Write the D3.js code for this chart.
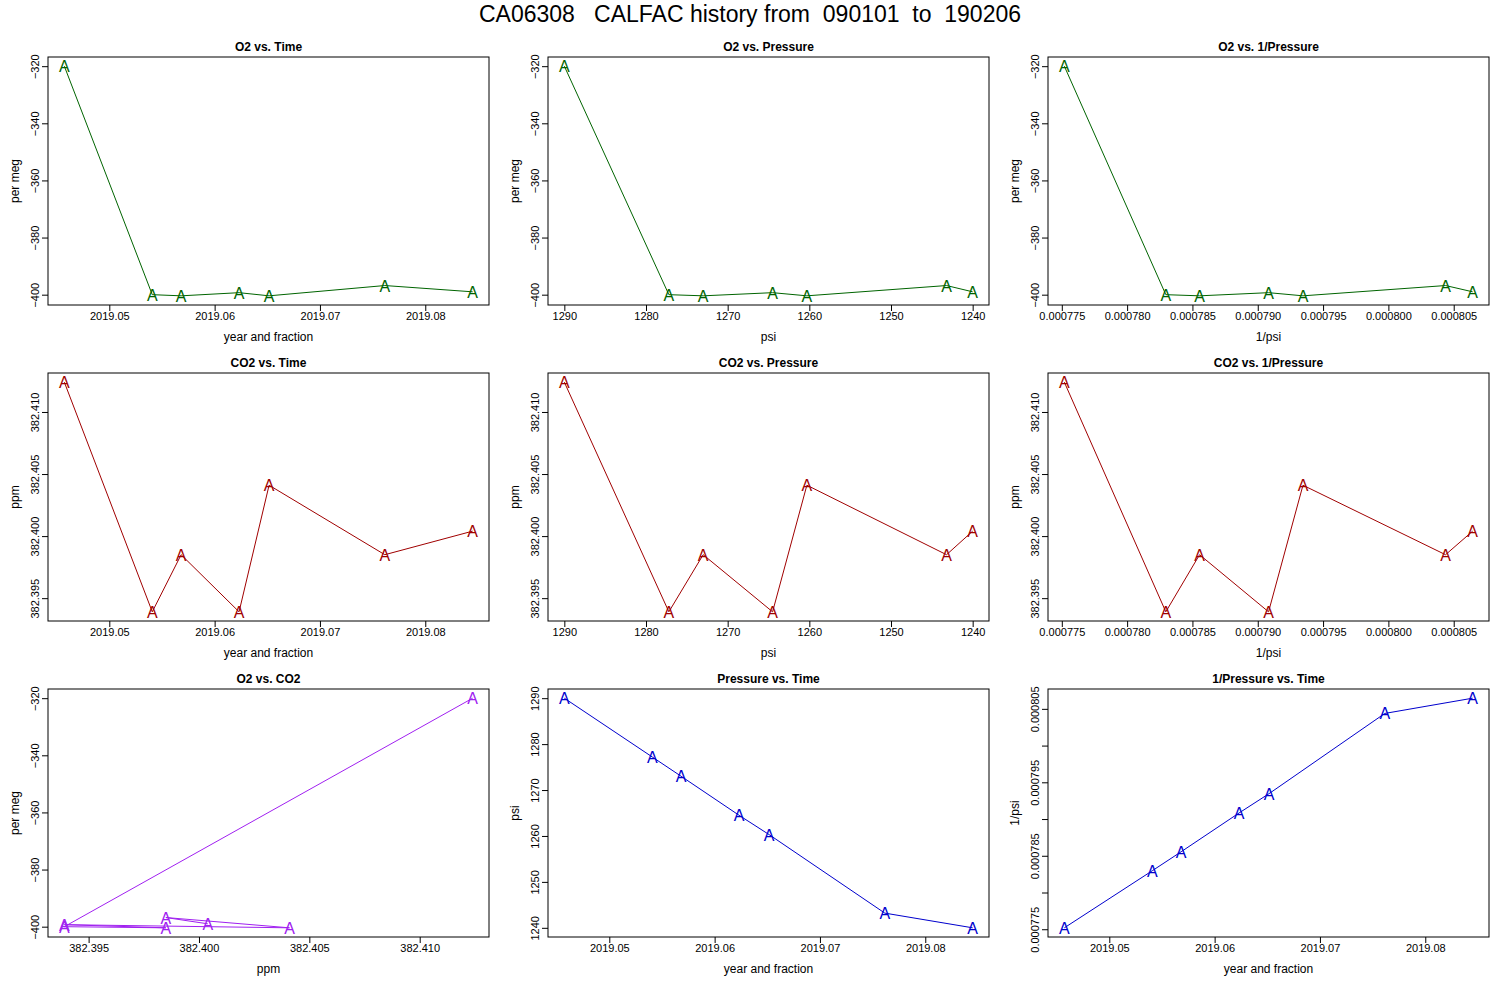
<!DOCTYPE html>
<html><head><meta charset="utf-8">
<script src="https://cdn.jsdelivr.net/npm/d3@7"></script>
<style>body{margin:0;background:#fff}text{font-family:"Liberation Sans",Arial,sans-serif}</style>
</head><body><svg id="chart" width="1500" height="1000"></svg>
<script>
// data
var times = [2019.04573, 2019.05408, 2019.05682, 2019.06232, 2019.06517, 2019.07616, 2019.08450];
var o2 = [-320, -400, -400.4, -399.3, -400.4, -396.8, -399];
var co2 = [382.4124, 382.3939, 382.3985, 382.3939, 382.4041, 382.3985, 382.4004];
var pressure = [1290, 1277.2, 1273, 1264.5, 1260.3, 1243.2, 1240];
var invP = pressure.map(p => 1 / p);

var timeTicks = [2019.05, 2019.06, 2019.07, 2019.08];
var o2Ticks = [-320, -340, -360, -380, -400];
var co2Ticks = [382.395, 382.400, 382.405, 382.410];
var pTicks = [1290, 1280, 1270, 1260, 1250, 1240];
var invTicks = [0.000775, 0.000780, 0.000785, 0.000790, 0.000795, 0.000800, 0.000805];

var svg = d3.select('#chart');
svg.append('text').attr('x', 750).attr('y', 22).attr('text-anchor', 'middle')
  .style('white-space', 'pre').attr('font-size', 23)
  .text('CA06308   CALFAC history from  090101  to  190206');

var cols = [48, 548, 1048], rows = [57, 373, 689], W = 441, H = 248;
var green = '#006400', red = '#a00000', purple = '#a020f0', blue = '#0000cd';

function ext(v, rev) {
  var lo = d3.min(v), hi = d3.max(v), d = (hi - lo) * 0.04;
  return rev ? [hi + d, lo - d] : [lo - d, hi + d];
}

function panel(c, r, title, xs, ys, xt, yt, xf, yf, xl, yl, col, xrev, yLabelEvery) {
  var x0 = cols[c], y0 = rows[r];
  var g = svg.append('g').attr('transform', `translate(${x0},${y0})`);
  var x = d3.scaleLinear().domain(ext(xs, xrev)).range([0, W]);
  var y = d3.scaleLinear().domain(ext(ys)).range([H, 0]);
  g.append('rect').attr('width', W).attr('height', H).attr('fill', 'none').attr('stroke', '#000');
  g.append('text').attr('x', W / 2).attr('y', -6).attr('text-anchor', 'middle')
    .attr('font-size', 12).attr('font-weight', 'bold').text(title);

  var xa = g.append('g').attr('transform', `translate(0,${H})`)
    .call(d3.axisBottom(x).tickValues(xt).tickFormat(xf).tickSize(6).tickSizeOuter(0));
  xa.select('.domain').remove();
  xa.selectAll('text').attr('font-size', 11).attr('y', 5).attr('dy', '0.9em');
  g.append('text').attr('x', W / 2).attr('y', H + 36).attr('text-anchor', 'middle').attr('font-size', 12).text(xl);

  var ya = g.append('g')
    .call(d3.axisLeft(y).tickValues(yt).tickFormat((d, i) => (i % (yLabelEvery || 1) ? '' : yf(d))).tickSize(6).tickSizeOuter(0));
  ya.select('.domain').remove();
  ya.selectAll('text').attr('font-size', 11).attr('text-anchor', 'middle')
    .attr('transform', 'rotate(-90)').attr('x', 0).attr('y', -9).attr('dy', 0);
  g.append('text').attr('transform', `translate(-29,${H / 2}) rotate(-90)`)
    .attr('text-anchor', 'middle').attr('font-size', 12).text(yl);

  var pts = xs.map((d, i) => [x(d), y(ys[i])]);
  g.append('path').attr('d', d3.line()(pts)).attr('fill', 'none').attr('stroke', col).attr('stroke-width', 1);
  g.selectAll('.m').data(pts).join('text').attr('x', d => d[0]).attr('y', d => d[1] + 6)
    .attr('text-anchor', 'middle').attr('font-size', 16).attr('fill', col).text('A');
}

var ft = d3.format('.2f'), fo = d3.format('d'), fc = d3.format('.3f'), fi = d3.format('.6f');

panel(0, 0, 'O2 vs. Time', times, o2, timeTicks, o2Ticks, ft, fo, 'year and fraction', 'per meg', green);
panel(1, 0, 'O2 vs. Pressure', pressure, o2, pTicks, o2Ticks, fo, fo, 'psi', 'per meg', green, true);
panel(2, 0, 'O2 vs. 1/Pressure', invP, o2, invTicks, o2Ticks, fi, fo, '1/psi', 'per meg', green);
panel(0, 1, 'CO2 vs. Time', times, co2, timeTicks, co2Ticks, ft, fc, 'year and fraction', 'ppm', red);
panel(1, 1, 'CO2 vs. Pressure', pressure, co2, pTicks, co2Ticks, fo, fc, 'psi', 'ppm', red, true);
panel(2, 1, 'CO2 vs. 1/Pressure', invP, co2, invTicks, co2Ticks, fi, fc, '1/psi', 'ppm', red);
panel(0, 2, 'O2 vs. CO2', co2, o2, co2Ticks, o2Ticks, fc, fo, 'ppm', 'per meg', purple);
panel(1, 2, 'Pressure vs. Time', times, pressure, timeTicks, pTicks.slice().reverse(), ft, fo, 'year and fraction', 'psi', blue);
panel(2, 2, '1/Pressure vs. Time', times, invP, timeTicks, invTicks, ft, fi, 'year and fraction', '1/psi', blue, false, 2);
</script></body></html>
